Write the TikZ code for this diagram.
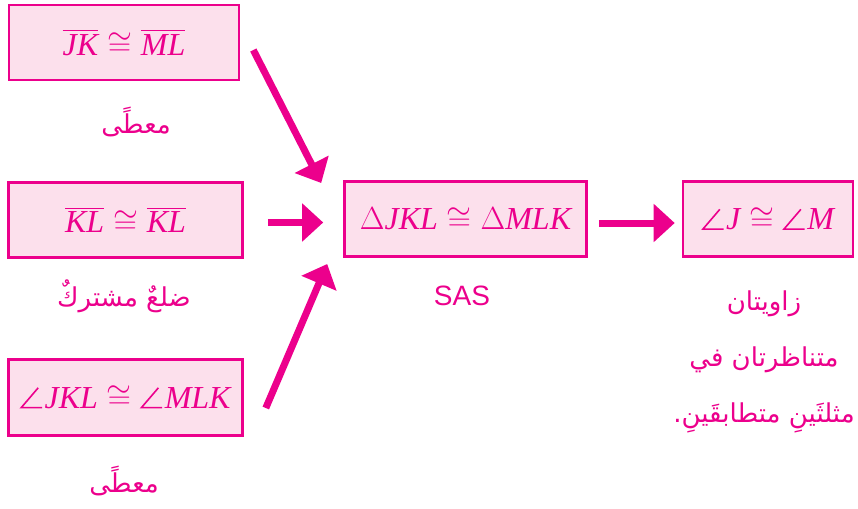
\RequirePackage{fix-cm}
\documentclass[tikz,border=0pt]{standalone}
\usepackage{amsmath}
\usepackage{fontspec}
\usetikzlibrary{arrows.meta,calc}
\TeXXeTstate=1
\newfontfamily\arabicfont[Script=Arabic]{DejaVu Sans}
\newfontfamily\serifit{Liberation Serif}
\newfontfamily\sasfont{Liberation Sans}
\definecolor{mag}{HTML}{EC008C}
\definecolor{pinkfill}{HTML}{FCE0EC}
\newcommand{\vi}[1]{\text{\serifit\itshape #1}}
\newcommand{\ang}{\mathord{\tikz[baseline=0pt,color=mag]{\draw[line width=0.05em,line join=miter]
  (0.58em,0.64em) -- (0.05em,0.02em) -- (0.7em,0.02em);}}\mkern1mu}
\tikzset{
  mbox/.style={draw=mag,fill=pinkfill,line width=2.6pt,inner sep=0pt,text=mag,
    font=\fontsize{32}{40}\selectfont},
  arlabel/.style={text=mag,font=\arabicfont\fontsize{26}{56}\selectfont,align=center,inner sep=0pt},
  arr/.style={color=mag,fill=mag,line width=7pt,-{Triangle[length=21pt,width=37pt,fill=mag]}}
}
\begin{document}
\begin{tikzpicture}[x=1pt,y=-1pt]
\useasboundingbox (0,0) rectangle (858,508);
\node[mbox,minimum width=230,minimum height=75] (b1) at (124,42.5)
  {$\overline{\vi{JK}}\cong\overline{\vi{ML}}$};
\node[mbox,minimum width=234,minimum height=75] (b2) at (125.5,220)
  {$\overline{\vi{KL}}\cong\overline{\vi{KL}}$};
\node[mbox,minimum width=234,minimum height=76] (b3) at (125.5,397.5)
  {$\ang\vi{JKL}\cong\ang\vi{MLK}$};
\node[mbox,minimum width=242,minimum height=75] (c) at (465.5,219)
  {$\Delta\vi{JKL}\cong\Delta\vi{MLK}$};
\node[mbox,minimum width=170,minimum height=75] (r) at (768,219)
  {$\ang\vi{J}\cong\ang\vi{M}$};

\node[arlabel] (l1) at (136,122) {\beginR معطًى\endR};
\node[arlabel] (l2) at (124,296) {\beginR ضلعٌ مشتركٌ\endR};
\node[arlabel] (l3) at (124,481) {\beginR معطًى\endR};
\node[text=mag,font=\sasfont\fontsize{28}{32}\selectfont,inner sep=0pt] (sas) at (462,296) {SAS};
\node[arlabel] (l4) at (764,362) {\beginR زاويتان\endR\\ \beginR متناظرتان في\endR\\ \beginR مثلثَينِ متطابقَينِ.\endR};

\draw[arr] ($(b1.east)+(13,7.5)$) -- ($(c.west)+(-22,-36)$);
\draw[arr] ($(b2.east)+(24,2.5)$) -- ($(c.west)+(-20,3.5)$);
\draw[arr] ($(b3.east)+(22,10.5)$) -- ($(c.west)+(-16,45)$);
\draw[arr] ($(c.east)+(11,4)$) -- ($(r.west)+(-7,4)$);
\end{tikzpicture}
\end{document}
